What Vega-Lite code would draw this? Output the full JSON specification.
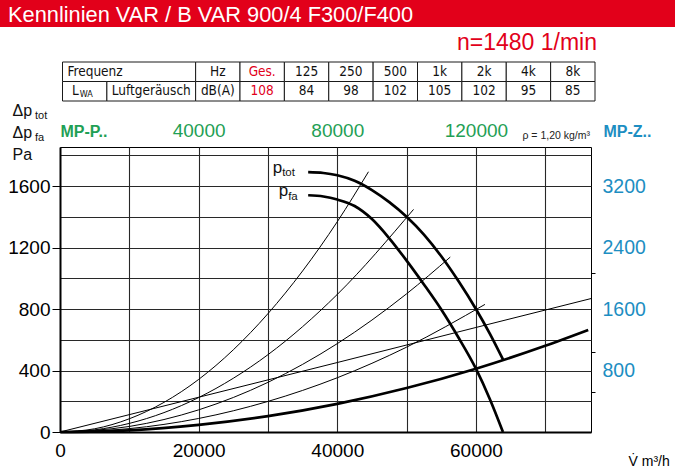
{
  "$schema": "https://vega.github.io/schema/vega-lite/v6.json",
  "width": 531,
  "height": 285,
  "autosize": {"type": "none"},
  "padding": {"left": 60, "top": 147, "right": 84, "bottom": 36},
  "background": "white",
  "config": {
    "view": {"stroke": "black", "strokeWidth": 1},
    "font": "Liberation Sans",
    "axis": {"labelFont": "Liberation Sans", "titleFont": "Liberation Sans", "labelOverlap": false},
    "text": {"font": "Liberation Sans"}
  },
  "datasets": {
    "curves": [
      {"curve": "ptot", "V": 35800, "p": 1690},
      {"curve": "ptot", "V": 38000, "p": 1685},
      {"curve": "ptot", "V": 40000, "p": 1670},
      {"curve": "ptot", "V": 42500, "p": 1634},
      {"curve": "ptot", "V": 45000, "p": 1574},
      {"curve": "ptot", "V": 47500, "p": 1495},
      {"curve": "ptot", "V": 50000, "p": 1400},
      {"curve": "ptot", "V": 52500, "p": 1284},
      {"curve": "ptot", "V": 55000, "p": 1143},
      {"curve": "ptot", "V": 57500, "p": 980},
      {"curve": "ptot", "V": 60000, "p": 800},
      {"curve": "ptot", "V": 62000, "p": 640},
      {"curve": "ptot", "V": 63900, "p": 472},
      {"curve": "pfa", "V": 35800, "p": 1540},
      {"curve": "pfa", "V": 38000, "p": 1532},
      {"curve": "pfa", "V": 40000, "p": 1512},
      {"curve": "pfa", "V": 42500, "p": 1470},
      {"curve": "pfa", "V": 45000, "p": 1385},
      {"curve": "pfa", "V": 47500, "p": 1260},
      {"curve": "pfa", "V": 50000, "p": 1115},
      {"curve": "pfa", "V": 52500, "p": 960},
      {"curve": "pfa", "V": 55000, "p": 797},
      {"curve": "pfa", "V": 57500, "p": 613},
      {"curve": "pfa", "V": 60000, "p": 412},
      {"curve": "pfa", "V": 62000, "p": 215},
      {"curve": "pfa", "V": 63900, "p": 0},
      {"curve": "sys", "V": 0, "p": 0},
      {"curve": "sys", "V": 10000, "p": 11},
      {"curve": "sys", "V": 20000, "p": 46},
      {"curve": "sys", "V": 30000, "p": 103},
      {"curve": "sys", "V": 40000, "p": 183},
      {"curve": "sys", "V": 50000, "p": 286},
      {"curve": "sys", "V": 60000, "p": 412},
      {"curve": "sys", "V": 70000, "p": 561},
      {"curve": "sys", "V": 76200, "p": 664},
      {"curve": "A", "V": 0, "p": 0},
      {"curve": "A", "V": 5000, "p": 21},
      {"curve": "A", "V": 10000, "p": 86},
      {"curve": "A", "V": 20000, "p": 342},
      {"curve": "A", "V": 30000, "p": 770},
      {"curve": "A", "V": 40000, "p": 1368},
      {"curve": "A", "V": 44500, "p": 1693},
      {"curve": "B", "V": 0, "p": 0},
      {"curve": "B", "V": 5000, "p": 14},
      {"curve": "B", "V": 10000, "p": 56},
      {"curve": "B", "V": 20000, "p": 224},
      {"curve": "B", "V": 30000, "p": 503},
      {"curve": "B", "V": 40000, "p": 895},
      {"curve": "B", "V": 51000, "p": 1448},
      {"curve": "C", "V": 0, "p": 0},
      {"curve": "C", "V": 10000, "p": 36},
      {"curve": "C", "V": 20000, "p": 144},
      {"curve": "C", "V": 30000, "p": 323},
      {"curve": "C", "V": 40000, "p": 575},
      {"curve": "C", "V": 50000, "p": 899},
      {"curve": "C", "V": 56300, "p": 1138},
      {"curve": "D", "V": 0, "p": 0},
      {"curve": "D", "V": 10000, "p": 22},
      {"curve": "D", "V": 20000, "p": 88},
      {"curve": "D", "V": 30000, "p": 199},
      {"curve": "D", "V": 40000, "p": 353},
      {"curve": "D", "V": 50000, "p": 552},
      {"curve": "D", "V": 61300, "p": 830},
      {"curve": "E", "V": 0, "p": 0},
      {"curve": "E", "V": 20000, "p": 226},
      {"curve": "E", "V": 40000, "p": 452},
      {"curve": "E", "V": 60000, "p": 680},
      {"curve": "E", "V": 76600, "p": 868}
    ],
    "cells": [
      {"row": "r0", "c0": "L", "c1": "Lu2", "t": "Frequenz"},
      {"row": "r0", "c0": "Hz", "c1": "Hz", "t": "Hz"},
      {"row": "r0", "c0": "Ges", "c1": "Ges", "t": "Ges."},
      {"row": "r0", "c0": "f125", "c1": "f125", "t": "125"},
      {"row": "r0", "c0": "f250", "c1": "f250", "t": "250"},
      {"row": "r0", "c0": "f500", "c1": "f500", "t": "500"},
      {"row": "r0", "c0": "f1k", "c1": "f1k", "t": "1k"},
      {"row": "r0", "c0": "f2k", "c1": "f2k", "t": "2k"},
      {"row": "r0", "c0": "f4k", "c1": "f4k", "t": "4k"},
      {"row": "r0", "c0": "f8k", "c1": "f8k", "t": "8k"},
      {"row": "r1", "c0": "L", "c1": "L", "t": "L", "sub": "WA"},
      {"row": "r1", "c0": "Lu1", "c1": "Lu2", "t": "Luftgeräusch"},
      {"row": "r1", "c0": "Hz", "c1": "Hz", "t": "dB(A)"},
      {"row": "r1", "c0": "Ges", "c1": "Ges", "t": "108"},
      {"row": "r1", "c0": "f125", "c1": "f125", "t": "84"},
      {"row": "r1", "c0": "f250", "c1": "f250", "t": "98"},
      {"row": "r1", "c0": "f500", "c1": "f500", "t": "102"},
      {"row": "r1", "c0": "f1k", "c1": "f1k", "t": "105"},
      {"row": "r1", "c0": "f2k", "c1": "f2k", "t": "102"},
      {"row": "r1", "c0": "f4k", "c1": "f4k", "t": "95"},
      {"row": "r1", "c0": "f8k", "c1": "f8k", "t": "85"}
    ]
  },
  "layer": [
    {
      "data": {"name": "curves"},
      "resolve": {"axis": {"x": "independent", "y": "independent"}},
      "layer": [
        {
          "data": {"values": [{"t": "ρ = 1,20 kg/m³"}]},
          "mark": {"type": "text", "align": "right", "baseline": "alphabetic", "dx": -1, "dy": -8, "fontSize": 10.5, "color": "#222"},
          "encoding": {
            "x": {"datum": 76600, "type": "quantitative", "scale": {"domain": [0, 76600], "nice": false, "zero": true},
              "axis": {"orient": "bottom", "values": [10000, 20000, 30000, 40000, 50000, 60000, 70000], "grid": true, "gridColor": "#282828", "gridWidth": 1.1, "labels": false, "ticks": false, "domain": false, "title": null}},
            "y": {"datum": 1854, "type": "quantitative", "scale": {"domain": [0, 1854], "nice": false, "zero": true},
              "axis": {"orient": "left", "values": [200, 400, 600, 800, 1000, 1200, 1400, 1600, 1800], "grid": true, "gridColor": "#282828", "gridWidth": 1.1, "labels": false, "ticks": false, "domain": false, "title": null}},
            "text": {"field": "t"}
          }
        },
        {
          "transform": [{"filter": "indexof(['ptot','pfa','sys'], datum.curve) >= 0"}],
          "mark": {"type": "line", "color": "black", "strokeWidth": 2.7, "interpolate": "monotone"},
          "encoding": {
            "x": {"field": "V", "type": "quantitative", "scale": {"domain": [0, 76600], "nice": false, "zero": true},
              "axis": {"orient": "bottom", "values": [0, 20000, 40000, 60000], "format": "d", "labelFontSize": 19, "labelColor": "black", "labelFlush": false, "ticks": false, "grid": false, "domain": true, "domainColor": "black", "domainWidth": 2, "labelPadding": 9,
                "title": "V̇  m³/h", "titleFontSize": 14, "titleFontWeight": "normal", "titleColor": "black", "titleAlign": "left", "titleBaseline": "alphabetic", "titleX": 568, "titleY": 33}},
            "y": {"field": "p", "type": "quantitative", "scale": {"domain": [0, 1854], "nice": false, "zero": true},
              "axis": {"orient": "left", "values": [0, 400, 800, 1200, 1600], "format": "d", "labelFontSize": 19, "labelColor": "black", "tickSize": 8, "tickColor": "black", "grid": false, "domain": true, "domainColor": "black", "domainWidth": 2, "labelPadding": 2, "title": null}},
            "detail": {"field": "curve"}
          }
        },
        {
          "transform": [{"filter": "indexof(['ptot','pfa','sys'], datum.curve) < 0"}],
          "mark": {"type": "line", "color": "black", "strokeWidth": 1, "interpolate": "monotone"},
          "encoding": {
            "x": {"field": "V", "type": "quantitative", "scale": {"domain": [0, 76600], "nice": false, "zero": true},
              "axis": {"orient": "top", "values": [0, 20000, 40000, 60000],
                "labelExpr": "datum.value == 0 ? 'MP-P..' : format(datum.value * 2, 'd')",
                "labelColor": "#1fa055",
                "labelFontSize": {"condition": {"test": "datum.value == 0", "value": 16}, "value": 19},
                "labelFontWeight": {"condition": {"test": "datum.value == 0", "value": "bold"}, "value": "normal"},
                "labelAlign": {"condition": {"test": "datum.value == 0", "value": "left"}, "value": "center"},
                "labelBaseline": "alphabetic", "labelPadding": 11, "labelFlush": false,
                "ticks": false, "domain": false, "grid": false, "title": null}},
            "y": {"field": "p", "type": "quantitative", "scale": {"domain": [0, 1854], "nice": false, "zero": true},
              "axis": {"orient": "right", "values": [260, 400, 520, 800, 1035, 1200, 1600],
                "labelExpr": "indexof([400, 800, 1200, 1600], datum.value) >= 0 ? format(datum.value * 2, 'd') : ''",
                "labelColor": "#1d8ec2", "labelFontSize": 19.5, "labelAlign": "left", "labelPadding": 7,
                "tickSize": 4,
                "tickColor": {"condition": {"test": "indexof([400, 800, 1200, 1600], datum.value) >= 0", "value": "transparent"}, "value": "black"},
                "domain": false, "grid": false,
                "title": "MP-Z..", "titleAngle": 0, "titleAlign": "left", "titleBaseline": "alphabetic", "titleX": 12, "titleY": -11,
                "titleColor": "#1d8ec2", "titleFontSize": 16, "titleFontWeight": "bold"}},
            "detail": {"field": "curve"}
          }
        },
        {
          "data": {"values": [{"t": ["Δp", "Δp", "Pa"]}]},
          "mark": {"type": "text", "align": "left", "baseline": "alphabetic", "dx": -47.5, "dy": -31, "fontSize": 16, "lineHeight": 22, "color": "#111"},
          "encoding": {
            "x": {"datum": 0, "type": "quantitative", "axis": null},
            "y": {"datum": 1854, "type": "quantitative", "axis": null},
            "text": {"field": "t"}
          }
        },
        {
          "data": {"values": [{"t": ["tot", "fa"]}]},
          "mark": {"type": "text", "align": "left", "baseline": "alphabetic", "dx": -25, "dy": -28, "fontSize": 11, "lineHeight": 21.5, "color": "#111"},
          "encoding": {
            "x": {"datum": 0, "type": "quantitative", "axis": null},
            "y": {"datum": 1854, "type": "quantitative", "axis": null},
            "text": {"field": "t"}
          }
        },
        {
          "data": {"values": [{"V": 35800, "p": 1690, "t": "p"}]},
          "mark": {"type": "text", "align": "right", "baseline": "alphabetic", "dx": -26, "dy": 1, "fontSize": 17, "color": "#111"},
          "encoding": {
            "x": {"field": "V", "type": "quantitative", "axis": null},
            "y": {"field": "p", "type": "quantitative", "axis": null},
            "text": {"field": "t"}
          }
        },
        {
          "data": {"values": [{"V": 35800, "p": 1690, "t": "tot"}]},
          "mark": {"type": "text", "align": "left", "baseline": "alphabetic", "dx": -26, "dy": 4, "fontSize": 11.5, "color": "#111"},
          "encoding": {
            "x": {"field": "V", "type": "quantitative", "axis": null},
            "y": {"field": "p", "type": "quantitative", "axis": null},
            "text": {"field": "t"}
          }
        },
        {
          "data": {"values": [{"V": 35800, "p": 1540, "t": "p"}]},
          "mark": {"type": "text", "align": "right", "baseline": "alphabetic", "dx": -20, "dy": 1, "fontSize": 17, "color": "#111"},
          "encoding": {
            "x": {"field": "V", "type": "quantitative", "axis": null},
            "y": {"field": "p", "type": "quantitative", "axis": null},
            "text": {"field": "t"}
          }
        },
        {
          "data": {"values": [{"V": 35800, "p": 1540, "t": "fa"}]},
          "mark": {"type": "text", "align": "left", "baseline": "alphabetic", "dx": -20, "dy": 5, "fontSize": 11.5, "color": "#111"},
          "encoding": {
            "x": {"field": "V", "type": "quantitative", "axis": null},
            "y": {"field": "p", "type": "quantitative", "axis": null},
            "text": {"field": "t"}
          }
        }
      ]
    },
    {
      "data": {"values": [{"t": "Kennlinien VAR / B VAR 900/4 F300/F400"}]},
      "layer": [
        {
          "mark": {"type": "rect", "color": "#e2001a"},
          "encoding": {
            "x": {"datum": 0, "type": "quantitative", "scale": {"domain": [0, 1], "range": [-60, 615]}, "axis": null},
            "x2": {"datum": 1},
            "y": {"datum": 0, "type": "quantitative", "scale": {"domain": [0, 1], "range": [-147, -120]}, "axis": null},
            "y2": {"datum": 1}
          }
        },
        {
          "mark": {"type": "text", "color": "white", "align": "left", "baseline": "middle", "dx": 8, "dy": 1, "fontSize": 21.8},
          "encoding": {
            "x": {"datum": 0, "type": "quantitative"},
            "y": {"datum": 0.5, "type": "quantitative"},
            "text": {"field": "t"}
          }
        }
      ]
    },
    {
      "data": {"name": "cells"},
      "layer": [
        {
          "mark": {"type": "rect", "fill": "white", "stroke": "#1a1a1a", "strokeWidth": 1},
          "encoding": {
            "x": {"field": "c0", "type": "nominal", "bandPosition": 0,
              "scale": {"domain": ["L", "Lu1", "Lu2", "Hz", "Ges", "f125", "f250", "f500", "f1k", "f2k", "f4k", "f8k"], "range": [2.5, 535], "paddingInner": 0, "paddingOuter": 0},
              "axis": null},
            "x2": {"field": "c1", "bandPosition": 1},
            "y": {"field": "row", "type": "nominal", "scale": {"domain": ["r0", "r1"], "range": [-85, -46], "paddingInner": 0, "paddingOuter": 0}, "axis": null}
          }
        },
        {
          "transform": [{"filter": "datum.c0 == datum.c1 && datum.c0 != 'L'"}],
          "mark": {"type": "text", "align": "center", "baseline": "middle", "font": "DejaVu Sans Condensed, Liberation Sans", "fontSize": 13.5},
          "encoding": {
            "x": {"field": "c0", "type": "nominal"},
            "y": {"field": "row", "type": "nominal"},
            "text": {"field": "t"},
            "color": {"condition": {"test": "datum.c0 == 'Ges'", "value": "#e2001a"}, "value": "#111"}
          }
        },
        {
          "transform": [{"filter": "datum.t == 'Frequenz'"}],
          "mark": {"type": "text", "align": "left", "baseline": "middle", "dx": 5, "font": "DejaVu Sans Condensed, Liberation Sans", "fontSize": 13.5, "color": "#111"},
          "encoding": {
            "x": {"field": "c0", "type": "nominal", "bandPosition": 0},
            "y": {"field": "row", "type": "nominal"},
            "text": {"field": "t"}
          }
        },
        {
          "transform": [{"filter": "datum.c0 == 'Lu1'"}],
          "mark": {"type": "text", "align": "center", "baseline": "middle", "font": "DejaVu Sans Condensed, Liberation Sans", "fontSize": 13.5, "color": "#111"},
          "encoding": {
            "x": {"field": "c1", "type": "nominal", "bandPosition": 0},
            "y": {"field": "row", "type": "nominal"},
            "text": {"field": "t"}
          }
        },
        {
          "transform": [{"filter": "datum.sub == 'WA'"}],
          "mark": {"type": "text", "align": "right", "baseline": "middle", "dx": -6, "font": "DejaVu Sans Condensed, Liberation Sans", "fontSize": 13.5, "color": "#111"},
          "encoding": {
            "x": {"field": "c0", "type": "nominal"},
            "y": {"field": "row", "type": "nominal"},
            "text": {"field": "t"}
          }
        },
        {
          "transform": [{"filter": "datum.sub == 'WA'"}],
          "mark": {"type": "text", "align": "left", "baseline": "middle", "dx": -5, "dy": 3, "font": "DejaVu Sans Condensed, Liberation Sans", "fontSize": 9, "color": "#111"},
          "encoding": {
            "x": {"field": "c0", "type": "nominal"},
            "y": {"field": "row", "type": "nominal"},
            "text": {"field": "sub"}
          }
        },
        {
          "data": {"values": [{"t": "n=1480 1/min"}]},
          "mark": {"type": "text", "align": "right", "baseline": "alphabetic", "dx": 2, "dy": -12, "fontSize": 23, "color": "#e2001a"},
          "encoding": {
            "x": {"datum": "f8k", "type": "nominal", "bandPosition": 1},
            "y": {"datum": "r0", "type": "nominal", "bandPosition": 0},
            "text": {"field": "t"}
          }
        }
      ]
    }
  ],
  "resolve": {"scale": {"x": "independent", "y": "independent"}}
}
